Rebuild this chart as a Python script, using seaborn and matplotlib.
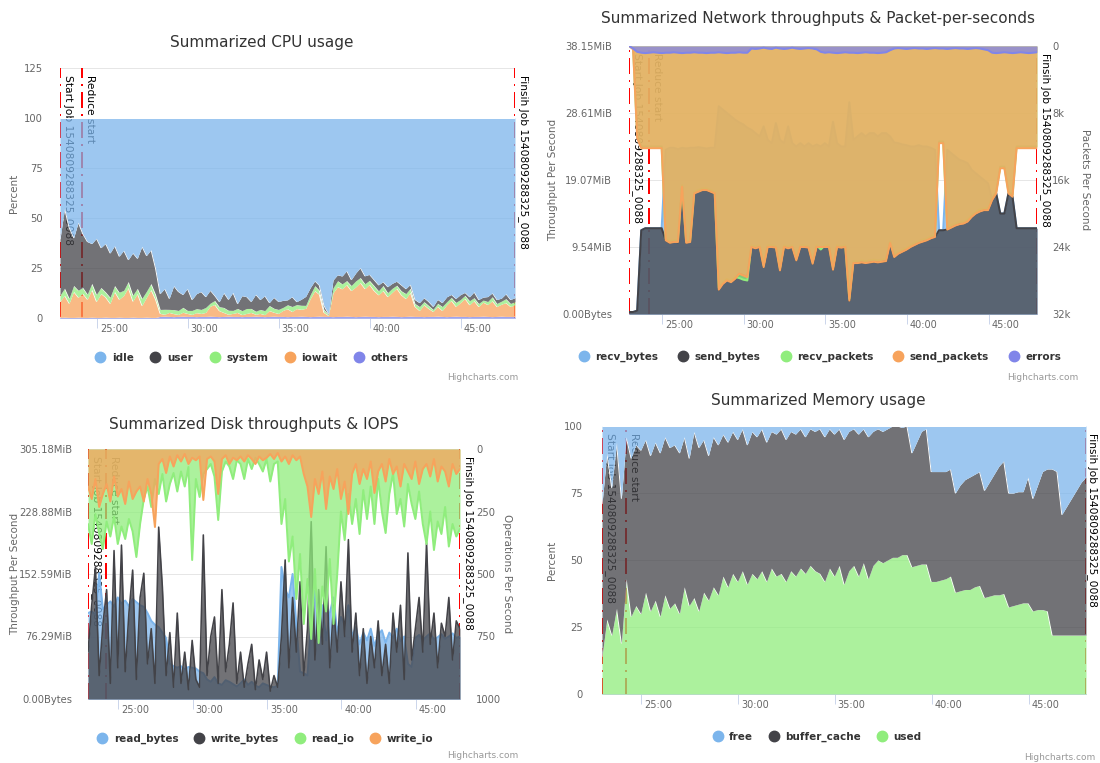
import numpy as np
import pandas as pd
import matplotlib
matplotlib.use("Agg")
import matplotlib.pyplot as plt
import matplotlib.transforms as mtransforms
from matplotlib.lines import Line2D
import seaborn as sns

sns.set_theme(style="white")
plt.rcParams["font.family"] = ["DejaVu Sans"]

# ---------------------------------------------------------------- data
# one sample every 15 s for the whole job
sample_times = pd.date_range("2018-10-29 10:22:58", "2018-10-29 10:47:58", freq="15s")

job_events = [
    ("Start Job 1540809288325_0088", "2018-10-29 10:22:58"),
    ("Reduce start", "2018-10-29 10:24:11"),
    ("Finsih Job 1540809288325_0088", "2018-10-29 10:47:58"),
]

xtick_times = ["2018-10-29 10:25:00", "2018-10-29 10:30:00", "2018-10-29 10:35:00",
               "2018-10-29 10:40:00", "2018-10-29 10:45:00"]
xtick_labels = ["25:00", "30:00", "35:00", "40:00", "45:00"]

# CPU (%)
cpu_idle = [60, 45, 54, 60, 52, 58, 61, 63, 60, 65, 62, 67, 64, 69, 66, 71, 67, 70, 64, 69, 66,
            75,
            88, 86, 90, 84, 87, 89, 85, 91, 88,
            87, 90, 86, 89, 92, 88, 91, 87, 93, 89, 90, 92, 88, 91, 89, 93, 90, 92,
            91, 92, 90, 93, 91, 89, 85, 82, 84,
            94, 98,
            82, 79, 80, 77, 81, 78, 75, 80, 78, 81,
            84, 82, 85, 83, 81, 84, 86, 83,
            91, 93, 90, 92, 94, 91, 93,
            90, 88, 91, 89, 87, 90, 88, 91, 89, 90, 88, 91, 90, 89, 91, 90]
cpu_user = [28, 40, 35, 24, 34, 27, 26, 20, 28, 20, 24, 22, 20, 18, 20, 11, 21, 15, 26, 18, 17,
            13,
            8, 10.5, 5.5, 12, 9.5, 6.5, 11, 5.5, 7.5,
            9, 5.5, 6.5, 2.5, 2.5, 7.5, 5.5, 9, 2.5, 7.5, 6, 3.5, 8.5, 5, 7.5, 1.5, 5.5, 4,
            3.5, 2.5, 5, 1.5, 3, 4.5, 3.5, 2.5, 2.5,
            2, 0.5,
            4, 3, 4, 5, 3, 4, 5, 4, 3, 3,
            3, 2, 3, 2.5, 2, 3, 2.5, 2,
            2, 2, 2, 2, 1.5, 2, 2,
            2.5, 1.5, 2, 2.5, 1.5, 2, 3, 2, 1.5, 2.5, 2, 2, 1.5, 2.5, 2, 2]
cpu_system = [3, 3.5, 2.5, 3, 3.5, 3, 2.5, 3, 3.5, 3, 2.5, 3, 3, 3.5, 2.5, 3, 3, 2.5, 3.5, 3, 3, 2.5,
              2, 2.5, 1.5, 2, 2, 2.5, 1.5, 2, 2, 2, 2.5, 1.5, 2, 2, 2.5, 2, 1.5, 2, 2, 2.5,
              2, 1.5, 2, 2, 2.5, 2, 2, 1.5, 2, 2.5, 2, 2, 1.5, 2, 2.5, 2, 1.5, 0.5,
              2.5, 3, 2.5, 2, 2.5, 3, 2.5, 2.5, 2, 2.5,
              2, 2.5, 2, 2, 1.5, 2, 2.5, 2,
              1.5, 2, 1.5, 1.5, 1, 1.5, 2, 1.5, 1.5, 2, 1.5, 1.5, 2, 1.5, 1.5, 1, 1.5, 2, 1.5,
              1.5, 2, 1.5, 1.5]
cpu_iowait = [8, 11, 7, 13, 10, 12, 9, 14, 8, 12, 10, 7, 13, 9, 11, 15, 8, 12, 6, 10, 14,
              9,
              1.5, 1, 2, 1.5, 1, 2, 1.5, 1, 2,
              1.5, 2, 5, 6, 3, 2, 1, 1.5, 2, 1, 1.5, 2, 1, 1.5, 1, 3, 2, 1.5,
              3, 4, 2.5, 4, 3.5, 4, 9, 13, 11,
              2, 0.5,
              12, 15, 14, 16, 13, 15, 17, 14, 16, 13,
              11, 13, 10, 12, 14, 11, 9, 12,
              5, 3, 6, 4, 2.5, 5, 3,
              6, 8, 5, 7, 9, 6, 8, 5, 7, 6, 8, 5, 6, 7, 5, 6]
cpu_others = [0.3, 0.4, 0.3, 0.3, 0.4, 0.3, 0.3, 0.4, 0.3, 0.3, 0.4, 0.3, 0.3, 0.4, 0.3, 0.3,
              0.4, 0.3, 0.3, 0.4, 0.3, 0.3,
              0.8, 0.9, 0.8, 0.7, 0.8, 0.9, 0.8, 0.8, 0.7, 0.8,
              0.8, 0.9, 0.8, 0.7, 0.8, 0.9, 0.8, 0.8, 0.7, 0.8,
              0.8, 0.9, 0.8, 0.7, 0.8, 0.9, 0.8, 0.8, 0.7, 0.8,
              0.8, 0.9, 0.8, 0.7, 0.8, 0.9, 0.8, 0.8, 0.7, 0.8,
              0.8, 0.9, 0.8, 0.7, 0.8, 0.9, 0.8, 0.8, 0.7, 0.8,
              0.8, 0.9, 0.8, 0.7, 0.8, 0.9, 0.8, 0.8, 0.7, 0.8,
              0.8, 0.9, 0.8, 0.7, 0.8, 0.9, 0.8, 0.8, 0.7, 0.8,
              0.8, 0.9, 0.8, 0.7, 0.8, 0.9, 0.8, 0.8, 0.7]

# Network: bytes in MB (10^6 B) per second, packets per second
net_recv_bytes = [0.3, 0.3, 0.5, 12.5, 12.8, 12.8, 12.8, 12.8, 12.8, 24.5, 24.8, 24.8, 24.6, 24.8,
                  24.7, 24.8, 24.8, 24.9, 24.8, 24.7, 24.8, 24.8, 31, 30.5, 30, 29.5, 29, 28.6,
                  28.3, 27.8, 27.5, 27, 26.5, 28, 26, 25.5, 28.5, 26, 25.5, 28, 25.5, 25, 25.5,
                  25, 25.5, 25, 25.3, 25, 25.5, 25, 28.7, 25.5, 25, 25, 31.6, 26, 26.5, 27, 26.5,
                  27, 27, 26.5, 27, 27, 26.5, 25.6, 25.5, 25.3, 25.2, 25, 25, 25.2, 25, 25, 24.8,
                  24.5, 12.5, 12.5, 24.5, 24, 23.5, 23, 22.8, 22.5, 21.5, 21, 20.5, 20, 19.5, 17,
                  18, 15, 15, 18, 17.5, 12.8, 12.8, 12.8, 12.8, 12.8, 12.8]
net_send_bytes = [0.3, 0.3, 0.5, 12.5, 12.8, 12.8, 12.8, 12.8, 12.8, 11.0, 10.6, 10.8, 10.7, 19.0,
                  10.6, 10.8, 18.0, 18.3, 18.5, 18.5, 18.2, 18.0, 3.6, 4.5, 5.0, 4.8, 5.2, 6.0,
                  5.8, 5.5, 10.0, 9.8, 10.0, 7.0, 10.0, 10.0, 9.9, 6.5, 10.0, 9.8, 10.0, 8.0,
                  10.0, 10.0, 9.9, 7.5, 10.0, 10.0, 10.0, 10.0, 6.6, 10.0, 9.9, 10.0, 2.0, 7.6,
                  7.6, 7.7, 7.6, 7.7, 7.8, 7.7, 7.8, 7.9, 10.6, 8.5, 9.0, 9.3, 9.6, 10.0, 10.3,
                  10.6, 10.8, 11.0, 11.3, 11.5, 12.5, 12.5, 12.6, 12.9, 13.2, 13.4, 13.5, 13.8,
                  14.5, 15.0, 15.3, 15.5, 15.5, 17.0, 18.0, 15.0, 15.0, 18.0, 17.5, 12.8, 12.8,
                  12.8, 12.8, 12.8, 12.8]
net_recv_packets = [0, 300, 10500, 12000, 12000, 12000, 12000, 12000, 12000, 23000, 23300, 23200,
                    23200, 16600, 23300, 23200, 17400, 17200, 17000, 17000, 17200, 17400, 28900,
                    28200, 27800, 28000, 27600, 27700, 27900, 28000, 23800, 23900, 23800, 26200,
                    23800, 23800, 23900, 26600, 23800, 23900, 23800, 25400, 23800, 23800, 23900,
                    25800, 23800, 24300, 23800, 23800, 26500, 23800, 23900, 23800, 30200, 25700,
                    25700, 25600, 25700, 25600, 25500, 25600, 25500, 25400, 23300, 25000, 24600,
                    24300, 24100, 23800, 23500, 23300, 23100, 23000, 22700, 22600, 11400, 11400,
                    21700, 21400, 21200, 21000, 21000, 20700, 20200, 19800, 19500, 19400, 19400,
                    18200, 17400, 14400, 14400, 17400, 17800, 12000, 12000, 12000, 12000, 12000,
                    12000]
net_send_packets = [0, 400, 11000, 12200, 12200, 12200, 12200, 12200, 12200, 23200, 23500, 23400,
                    23400, 16800, 23500, 23400, 17600, 17400, 17200, 17200, 17400, 17600, 29100,
                    28400, 28000, 28200, 27800, 27200, 27400, 27600, 24000, 24160, 24000, 26400,
                    24000, 24000, 24080, 26800, 24000, 24160, 24000, 25600, 24000, 24000, 24080,
                    26000, 24000, 24000, 24000, 24000, 26720, 24000, 24080, 24000, 30400, 25920,
                    25920, 25840, 25920, 25840, 25760, 25840, 25760, 25680, 23520, 25200, 24800,
                    24560, 24320, 24000, 23760, 23520, 23360, 23200, 22960, 22800, 11600, 11600,
                    21920, 21680, 21440, 21280, 21200, 20960, 20400, 20000, 19760, 19600, 19600,
                    18400, 17600, 14600, 14600, 17600, 18000, 12200, 12200, 12200, 12200, 12200,
                    12200]
net_errors = [0, 300, 700,
              800, 850, 800, 750, 800, 850, 800, 800, 750, 800, 850, 800, 800, 750, 800, 800,
              850, 800, 800, 750, 800, 850, 800, 800, 750, 800, 800,
              300, 350, 300, 200, 300, 350, 200, 300, 350, 300, 200, 300, 350, 300, 250, 300, 400,
              700, 800, 750, 800, 850, 800, 750, 800, 800, 850, 800, 750, 800, 800, 850, 800, 750,
              500,
              300, 250, 300, 350, 300, 250, 300, 300, 350, 300, 250, 300, 300, 350, 300, 250, 300,
              300, 350, 300, 250, 300, 400, 500,
              800, 850, 800, 750, 800, 850, 800, 750, 800, 850, 800, 750]

# Disk: bytes in MB (10^6 B) per second, operations per second
disk_read_bytes = [110, 112, 108, 161,
                   115, 120, 125, 118, 130, 122, 126, 119, 128, 124, 120,
                   118, 110, 100, 95, 92, 85, 78,
                   45, 42, 40, 42, 38, 41, 40, 39,
                   35, 33,
                   25, 22, 28, 20, 18, 24, 22, 19, 16, 20, 25, 18, 22, 17, 15, 20, 18, 16, 15, 17,
                   169, 140, 130, 160, 95,
                   35, 33, 30,
                   100, 139, 90, 120, 75, 110, 130, 85, 105, 95, 120,
                   80, 92, 70, 85, 75, 90, 68, 82, 88, 72, 85, 78, 90, 74, 80,
                   45, 41,
                   78, 82, 75, 80, 84, 76, 79, 83, 77, 80, 84, 78, 80]
disk_write_bytes = [60, 120, 169, 30, 95, 140, 20, 190, 40, 197,
                    35, 110, 165, 25, 130, 161, 45, 90, 20, 220,
                    143, 30, 85, 15, 110, 20, 60, 12, 75, 25,
                    15, 210, 30, 80, 105, 20, 140, 35, 70, 123,
                    20, 60, 15, 45, 70, 12, 50, 25, 60, 10,
                    30, 15, 80, 178, 40, 130, 60, 150, 30, 90,
                    227, 50, 140, 70, 195, 40, 120, 60, 150, 80,
                    204, 60, 110, 30, 90, 20, 80, 40, 100, 30,
                    70, 20, 110, 60, 120, 25, 187, 50, 90, 130,
                    60, 200, 70, 110, 40, 97, 80, 130, 50, 100, 90]
disk_read_io = [300, 380, 260, 340, 400, 290, 350, 270, 380, 310, 360, 280, 330, 432, 300,
                200, 150, 232, 120, 180, 100, 210, 140, 96, 170,
                90, 150, 72, 444, 120, 192, 100, 80,
                60, 110, 284, 90, 50, 70, 120, 45, 60, 120, 40, 80, 35, 60, 90, 40, 130, 60, 50,
                300, 200, 450, 350, 600, 420, 700, 520, 760, 480, 776, 550, 650, 440, 700, 500,
                250, 364, 180, 300, 200, 340, 164, 280,
                150, 300, 120, 250, 336, 180, 96, 260, 200, 310, 140, 220, 280, 170,
                300, 380, 250, 404, 290, 340, 232, 390, 300, 350, 320]
disk_write_io = [150, 200, 120, 232, 180, 140, 210, 110, 190, 160, 220, 130, 200, 170, 150, 210,
                 120, 180, 312,
                 60, 40, 96, 30, 70, 25, 50, 20, 60, 35, 45, 30,
                 204, 40, 30, 50, 180, 40, 25, 60, 35, 45, 30, 50, 25, 40, 60, 30, 45, 35,
                 20, 40, 16, 50, 30, 60, 25, 45, 30,
                 100, 150, 272, 120, 180, 90, 240, 110, 160, 80, 200, 130, 260, 100,
                 60, 140, 80, 120, 50, 176, 90, 60, 130, 40, 100, 70, 150, 60, 90, 120, 50, 140,
                 80, 60, 110, 40, 130, 70, 90, 150, 60, 100, 80]

# Memory (%)
mem_used = [14, 28, 22, 32, 19, 43, 29, 33, 30, 38, 31, 35, 29, 37, 32, 34, 30, 40, 33, 36, 31,
            38, 35, 40, 37, 44, 40, 45, 42, 46, 41, 45, 43, 46, 42, 47, 44, 45, 42, 46, 44, 47,
            45, 48, 46, 45, 42, 47, 44, 48, 41, 46, 48, 44, 49, 43, 48, 50, 49, 50, 51, 51, 52,
            52, 47.5, 48, 48.5, 48.5, 42, 42, 42.5, 43, 44, 38, 38.5, 39, 39, 40, 40.5, 36, 36.5,
            37, 37, 37.5, 32.5, 33, 33.5, 34, 34, 31, 31.5, 31.5, 31, 22, 22, 22, 22, 22, 22,
            22, 22]
mem_buffer_cache = [57, 62, 55, 62, 54, 53, 59, 60, 61, 57, 58, 59, 61, 59, 60, 59, 60, 56, 55,
                    62, 61, 57, 54, 56, 56, 53, 54, 53, 53, 53, 52, 53, 53, 53, 52, 51, 53, 54,
                    53, 52, 53, 52, 51, 51, 52, 54, 54, 52, 53, 51, 54, 52, 51, 53, 50, 53, 50,
                    49, 49, 49, 49, 49, 47.5, 48, 42.5, 46, 49.5, 50.5, 41, 41, 40.5, 40, 40, 37,
                    39.5, 41, 42, 42, 42.5, 40, 42.5, 45, 48, 49.5, 42.5, 42, 42, 41.5, 47, 42,
                    46.5, 51.5, 53, 62, 61, 45, 48, 51, 54, 57, 59]
mem_free = [29, 10, 23, 6, 27, 4, 12, 7, 9, 5, 11, 6, 10, 4, 8, 7, 10, 4, 12, 2, 8, 5, 11, 4, 7,
            3, 6, 2, 5, 1, 7, 2, 4, 1, 6, 2, 3, 1, 5, 2, 3, 1, 4, 1, 2, 1, 4, 1, 3, 1, 5, 2, 1,
            3, 1, 4, 2, 1, 2, 1, 0, 0, 0.5, 0, 10, 6, 2, 1, 17, 17, 17, 17, 16, 25, 22, 20, 19,
            18, 17, 24, 21, 18, 15, 13, 25, 25, 24.5, 24.5, 19, 27, 22, 17, 16, 16, 17, 33, 30,
            27, 24, 21, 19]

cpu_yticks = [0, 25, 50, 75, 100, 125]
mem_yticks = [0, 25, 50, 75, 100]
net_byte_ticks = [0, 10, 20, 30, 40]
net_packet_ticks = [0, 8000, 16000, 24000, 32000]
net_packet_labels = ["0", "8k", "16k", "24k", "32k"]
disk_byte_ticks = [0, 80, 160, 240, 320]
disk_op_ticks = [0, 250, 500, 750, 1000]

# ---------------------------------------------------------------- styling
BLUE, DARK, GREEN, ORANGE, PURPLE = "#7cb5ec", "#434348", "#90ed7d", "#f7a35c", "#8085e9"
AXIS_LINE = "#ccd6eb"
GRID = "#e6e6e6"
LABEL = "#666666"
FILL_ALPHA = 0.75
PX = 0.72  # points per pixel at dpi 100

W, H = 1100, 763
fig = plt.figure(figsize=(W / 100, H / 100), dpi=100)
fig.patch.set_facecolor("white")


def to_minutes(stamps):
    stamps = pd.DatetimeIndex(pd.to_datetime(stamps))
    return np.asarray(stamps.minute + stamps.second / 60.0, dtype=float)


x = to_minutes(sample_times)
xtick_pos = to_minutes(xtick_times)
event_pos = [(name, to_minutes([t])[0]) for name, t in job_events]


def rect(left, top, right, bottom):
    return [left / W, 1 - bottom / H, (right - left) / W, (bottom - top) / H]


def bytes_label(mb):
    return "0.00Bytes" if mb == 0 else f"{mb * 1e6 / 2 ** 20:.2f}MiB"


def base_axes(box, yticks, ylabels, pad_px):
    ax = fig.add_axes(rect(*box))
    ax.set_facecolor("white")
    for side in ("top", "right", "left"):
        ax.spines[side].set_visible(False)
    ax.spines["bottom"].set_color(AXIS_LINE)
    ax.spines["bottom"].set_linewidth(1 * PX)
    ax.set_xticks(xtick_pos)
    ax.set_xticklabels(xtick_labels)
    ax.set_yticks(yticks)
    ax.set_yticklabels(ylabels)
    ax.yaxis.grid(True, color=GRID, lw=1 * PX)
    ax.xaxis.grid(False)
    ax.set_axisbelow(True)
    ax.tick_params(axis="y", left=False, length=0, pad=pad_px * PX, labelsize=7.2,
                   labelcolor=LABEL)
    ax.tick_params(axis="x", bottom=True, direction="out", length=10 * PX, width=1 * PX,
                   color=AXIS_LINE, pad=-3, labelsize=7, labelcolor=LABEL)
    shift = mtransforms.ScaledTranslation(2 / 72, 0, fig.dpi_scale_trans)
    for lab in ax.get_xticklabels():
        lab.set_horizontalalignment("left")
        lab.set_transform(lab.get_transform() + shift)
    return ax


def right_axis(ax, pad_px):
    ax2 = ax.twinx()
    for side in ax2.spines:
        ax2.spines[side].set_visible(False)
    ax2.grid(False)
    ax2.tick_params(axis="y", right=True, length=0, pad=pad_px * PX, labelsize=7.2,
                    labelcolor=LABEL)
    return ax2


def job_marks(ax, label_dx=3):
    trans = mtransforms.blended_transform_factory(ax.transData, ax.transAxes)
    for k, (name, pos) in enumerate(event_pos):
        dx = label_dx if k == len(event_pos) - 1 else 3
        shift = mtransforms.ScaledTranslation(dx / 100, -7 / 100, fig.dpi_scale_trans)
        ax.axvline(pos, color="#ff0000", lw=2 * PX, dashes=(8, 3, 1, 3), zorder=2)
        ax.text(pos, 1, name, transform=trans + shift, rotation=270, ha="left", va="top",
                fontsize=7.7, color="black", zorder=2.1)


def area(ax, values, color, order, base=None, edge=None, edge_lw=2):
    values = np.asarray(values, dtype=float)
    lower = np.zeros_like(values) if base is None else base
    ax.fill_between(x, lower, values, color=color, alpha=FILL_ALPHA, lw=0, zorder=3 + 2 * order)
    sns.lineplot(x=x, y=values, ax=ax, color=edge or color, lw=edge_lw * PX, legend=False,
                 zorder=4 + 2 * order, estimator=None)


def stacked(ax, frame, order_names, colors):
    pct = frame.div(frame.sum(axis=1), axis=0) * 100
    base = np.zeros(len(x))
    for k, name in enumerate(order_names):
        top = base + pct[name].to_numpy()
        area(ax, top, colors[name], k, base=base, edge="white", edge_lw=1)
        base = top


def title(text, cx, cy):
    fig.text(cx / W, 1 - cy / H, text, ha="center", va="center", fontsize=11, color="#333333")


def axis_title(text, px, py, rotation):
    fig.text(px / W, 1 - py / H, text, ha="center", va="center", rotation=rotation,
             fontsize=7.5, color=LABEL)


def legend(names, colors, cx, cy, spacing=1.5):
    handles = [Line2D([], [], ls="", marker="o", ms=7.5, mfc=c, mec=c) for c in colors]
    fig.legend(handles, names, loc="center", bbox_to_anchor=(cx / W, 1 - cy / H),
               ncol=len(names), frameon=False, prop={"weight": "bold", "size": 7.5},
               labelcolor="#333333", handlelength=1.0, handletextpad=0.6,
               columnspacing=spacing, borderpad=0, borderaxespad=0)


def credit(rx, cy):
    fig.text(rx / W, 1 - cy / H, "Highcharts.com", ha="right", va="center", fontsize=6.5,
             color="#999999")


def finish(ax, ylim):
    ax.set_xlim(x[0], x[-1])
    ax.set_ylim(*ylim)
    ax.set_xlabel("")
    ax.set_ylabel("")


# ---------------------------------------------------------------- CPU
ax = base_axes((60, 68, 515, 318), cpu_yticks, [str(v) for v in cpu_yticks], 17)
job_marks(ax)
cpu = pd.DataFrame({"idle": cpu_idle, "user": cpu_user, "system": cpu_system,
                    "iowait": cpu_iowait, "others": cpu_others})
stacked(ax, cpu, ["others", "iowait", "system", "user", "idle"],
        {"idle": BLUE, "user": DARK, "system": GREEN, "iowait": ORANGE, "others": PURPLE})
finish(ax, (cpu_yticks[0], cpu_yticks[-1]))
title("Summarized CPU usage", 262, 43)
axis_title("Percent", 14, 193, 90)
legend(["idle", "user", "system", "iowait", "others"], [BLUE, DARK, GREEN, ORANGE, PURPLE],
       252, 358, spacing=1.6)
credit(518, 377)

# ---------------------------------------------------------------- Network
ax = base_axes((629, 46, 1037, 314), net_byte_ticks, [bytes_label(v) for v in net_byte_ticks], 17)
job_marks(ax)
area(ax, net_recv_bytes, BLUE, 0)
area(ax, net_send_bytes, DARK, 1)
finish(ax, (net_byte_ticks[0], net_byte_ticks[-1]))
ax2 = right_axis(ax, 15)
area(ax2, net_recv_packets, GREEN, 2)
area(ax2, net_send_packets, ORANGE, 3)
area(ax2, net_errors, PURPLE, 4)
finish(ax2, (net_packet_ticks[-1], net_packet_ticks[0]))
ax2.set_yticks(net_packet_ticks)
ax2.set_yticklabels(net_packet_labels)
title("Summarized Network throughputs & Packet-per-seconds", 818, 19)
axis_title("Throughput Per Second", 553, 180, 90)
axis_title("Packets Per Second", 1085, 180, 270)
legend(["recv_bytes", "send_bytes", "recv_packets", "send_packets", "errors"],
       [BLUE, DARK, GREEN, ORANGE, PURPLE], 820, 357, spacing=1.9)
credit(1078, 377)

# ---------------------------------------------------------------- Disk
ax = base_axes((88, 449, 460, 699), disk_byte_ticks, [bytes_label(v) for v in disk_byte_ticks], 16)
job_marks(ax)
area(ax, disk_read_bytes, BLUE, 0)
area(ax, disk_write_bytes, DARK, 1, edge_lw=1.6)
finish(ax, (disk_byte_ticks[0], disk_byte_ticks[-1]))
ax2 = right_axis(ax, 16)
area(ax2, disk_read_io, GREEN, 2)
area(ax2, disk_write_io, ORANGE, 3)
finish(ax2, (disk_op_ticks[-1], disk_op_ticks[0]))
ax2.set_yticks(disk_op_ticks)
ax2.set_yticklabels([str(v) for v in disk_op_ticks])
title("Summarized Disk throughputs & IOPS", 254, 424)
axis_title("Throughput Per Second", 15, 574, 90)
axis_title("Operations Per Second", 507, 574, 270)
legend(["read_bytes", "write_bytes", "read_io", "write_io"], [BLUE, DARK, GREEN, ORANGE],
       265, 739, spacing=1.5)
credit(518, 756)

# ---------------------------------------------------------------- Memory
ax = base_axes((602, 426, 1086, 694), mem_yticks, [str(v) for v in mem_yticks], 19)
job_marks(ax, label_dx=1)
mem = pd.DataFrame({"free": mem_free, "buffer_cache": mem_buffer_cache, "used": mem_used})
stacked(ax, mem, ["used", "buffer_cache", "free"],
        {"free": BLUE, "buffer_cache": DARK, "used": GREEN})
finish(ax, (mem_yticks[0], mem_yticks[-1]))
title("Summarized Memory usage", 818, 400)
axis_title("Percent", 552, 560, 90)
legend(["free", "buffer_cache", "used"], [BLUE, DARK, GREEN], 817, 737, spacing=1.5)
credit(1095, 757)

fig.savefig("out.png", dpi=100, facecolor="white")
